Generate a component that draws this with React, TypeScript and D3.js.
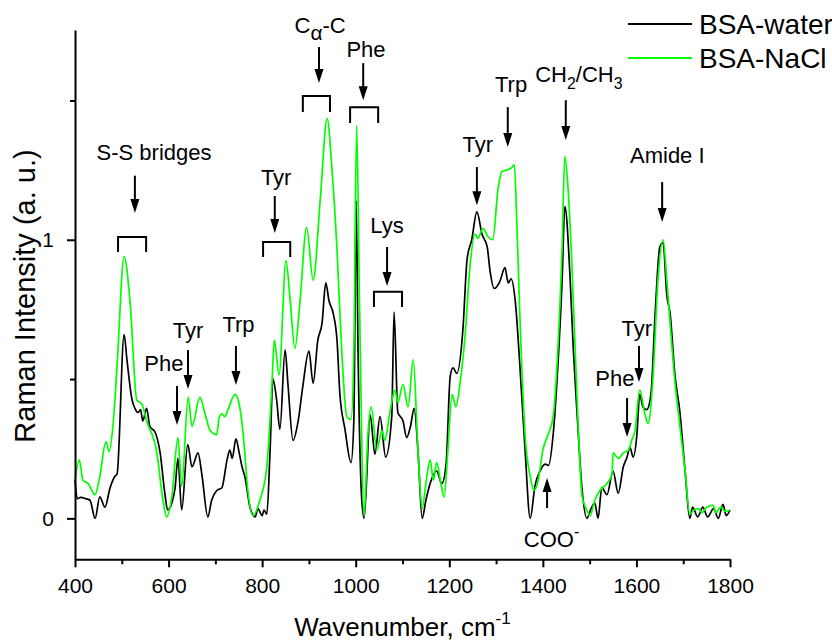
import React, { useRef, useEffect } from 'react';
import * as d3 from 'd3';

type Pt = [number, number];
type Part = { s: string; shift?: 'sub' | 'sup'; scale?: number };

// Raman spectra, [wavenumber cm-1, intensity a.u.]
const waterSpectrum: Pt[] = [
  [400, 0.137], [405, 0.07], [412, 0.075], [424, 0.07], [432, 0.065], [443, 0.0], [453, 0.077],
  [464, 0.04], [475, 0.11], [485, 0.15], [490, 0.16], [505, 0.66], [511, 0.57], [522, 0.425],
  [528, 0.395], [535, 0.38], [540, 0.39], [545, 0.35], [553, 0.395], [560, 0.33], [571, 0.31],
  [582, 0.235], [592, 0.09], [598, 0.03], [607, 0.055], [614, 0.11], [620, 0.215], [628, 0.03],
  [641, 0.265], [650, 0.185], [663, 0.235], [671, 0.16], [684, 0.005], [692, 0.065], [703, 0.1],
  [714, 0.11], [725, 0.21], [731, 0.245], [736, 0.215], [744, 0.285], [751, 0.235], [757, 0.185],
  [763, 0.15], [774, 0.04], [785, 0.005], [791, 0.035], [800, 0.01], [804, 0.03], [810, 0.015],
  [817, 0.245], [823, 0.5], [831, 0.425], [838, 0.32], [849, 0.605], [855, 0.485], [866, 0.28],
  [877, 0.35], [887, 0.475], [900, 0.6], [909, 0.485], [919, 0.64], [928, 0.7], [936, 0.845],
  [943, 0.78], [952, 0.735], [960, 0.64], [966, 0.45], [977, 0.32], [990, 0.2], [996, 0.35],
  [1001, 1.14], [1005, 0.6], [1013, 0.065], [1018, 0.0], [1031, 0.37], [1041, 0.23], [1052, 0.365],
  [1064, 0.22], [1077, 0.365], [1082, 0.74], [1090, 0.38], [1101, 0.35], [1109, 0.29], [1117, 0.33],
  [1125, 0.395], [1133, 0.245], [1142, 0.0], [1150, 0.065], [1159, 0.125], [1173, 0.17], [1184, 0.125],
  [1193, 0.19], [1202, 0.51], [1208, 0.54], [1216, 0.52], [1229, 0.675], [1238, 0.93], [1248, 1.0],
  [1259, 1.1], [1270, 1.02], [1281, 0.975], [1287, 0.89], [1296, 0.825], [1308, 0.85], [1319, 0.9],
  [1326, 0.845], [1332, 0.86], [1341, 0.78], [1351, 0.545], [1362, 0.245], [1373, 0.0], [1383, 0.115],
  [1394, 0.17], [1405, 0.195], [1412, 0.19], [1422, 0.3], [1432, 0.545], [1441, 0.845], [1447, 1.12],
  [1458, 0.87], [1465, 0.61], [1473, 0.38], [1484, 0.1], [1494, 0.0], [1503, 0.035], [1511, 0.055],
  [1518, 0.0], [1526, 0.11], [1537, 0.085], [1550, 0.17], [1561, 0.09], [1572, 0.185], [1580, 0.22],
  [1586, 0.255], [1593, 0.22], [1601, 0.3], [1607, 0.445], [1614, 0.4], [1622, 0.39], [1631, 0.445],
  [1640, 0.735], [1650, 0.975], [1657, 0.99], [1665, 0.8], [1672, 0.735], [1682, 0.52], [1693, 0.38],
  [1704, 0.17], [1714, 0.0], [1720, 0.04], [1731, 0.005], [1742, 0.04], [1752, 0.005], [1765, 0.035],
  [1775, 0.0], [1785, 0.05], [1792, 0.01], [1800, 0.03],
];

const naclSpectrum: Pt[] = [
  [400, 0.137], [409, 0.21], [417, 0.137], [428, 0.125], [443, 0.085], [453, 0.15], [466, 0.275],
  [473, 0.24], [481, 0.33], [490, 0.55], [505, 0.94], [518, 0.77], [532, 0.425], [543, 0.41],
  [553, 0.35], [575, 0.235], [588, 0.065], [596, 0.005], [607, 0.077], [620, 0.29], [628, 0.115],
  [642, 0.435], [650, 0.33], [667, 0.435], [678, 0.375], [689, 0.315], [703, 0.3], [708, 0.36],
  [714, 0.375], [720, 0.365], [727, 0.39], [742, 0.445], [753, 0.39], [763, 0.235], [768, 0.125],
  [781, 0.01], [795, 0.065], [810, 0.185], [821, 0.485], [826, 0.64], [836, 0.515], [851, 0.925],
  [860, 0.78], [870, 0.61], [881, 0.78], [895, 1.045], [909, 0.855], [924, 1.14], [939, 1.435],
  [949, 1.26], [960, 0.965], [970, 0.605], [981, 0.365], [990, 0.355], [996, 0.6], [1002, 1.41],
  [1008, 0.785], [1018, 0.01], [1026, 0.3], [1033, 0.4], [1045, 0.245], [1056, 0.315], [1062, 0.28],
  [1073, 0.38], [1084, 0.46], [1090, 0.415], [1101, 0.48], [1112, 0.4], [1123, 0.57], [1133, 0.245],
  [1142, 0.035], [1150, 0.125], [1159, 0.21], [1166, 0.137], [1173, 0.2], [1182, 0.125], [1189, 0.077],
  [1197, 0.245], [1206, 0.445], [1214, 0.4], [1223, 0.485], [1234, 0.66], [1244, 0.9], [1255, 1.02],
  [1261, 1.005], [1272, 1.04], [1283, 1.01], [1293, 1.0], [1304, 1.18], [1313, 1.245], [1323, 1.25],
  [1334, 1.26], [1339, 1.27], [1344, 1.08], [1351, 0.72], [1362, 0.3], [1373, 0.15], [1381, 0.1],
  [1390, 0.137], [1400, 0.245], [1411, 0.3], [1422, 0.365], [1432, 0.605], [1441, 0.965], [1447, 1.3],
  [1454, 1.18], [1462, 0.915], [1473, 0.435], [1484, 0.077], [1494, 0.03], [1501, 0.01], [1511, 0.065],
  [1522, 0.1], [1537, 0.125], [1548, 0.16], [1550, 0.235], [1561, 0.215], [1572, 0.235], [1583, 0.245],
  [1590, 0.28], [1597, 0.315], [1607, 0.46], [1618, 0.375], [1625, 0.34], [1635, 0.495], [1646, 0.855],
  [1657, 1.0], [1665, 0.855], [1672, 0.7], [1680, 0.53], [1693, 0.33], [1704, 0.17], [1714, 0.015],
  [1723, 0.03], [1733, 0.035], [1740, 0.02], [1750, 0.04], [1764, 0.047], [1770, 0.02], [1780, 0.04],
  [1790, 0.025], [1800, 0.03],
];

const seriesNames = ['BSA-water', 'BSA-NaCl'];
const seriesColors = ['#000000', '#00ff00'];

const xMajorTicks = [400, 600, 800, 1000, 1200, 1400, 1600, 1800];
const xMinorTicks = [500, 700, 900, 1100, 1300, 1500, 1700];
const yMajorTicks = [0, 1];
const yMinorTicks = [0.5, 1.5];

// band assignments: arrow at `at`, from `from` to tip `to` (a.u.), label centred on textAt
const peakLabels: { parts: Part[]; at: number; textAt: number; textY: number; from: number; to: number }[] = [
  { parts: [{ s: 'S-S bridges' }], at: 528, textAt: 569, textY: 1.286, from: 1.23, to: 1.096 },
  { parts: [{ s: 'Phe' }], at: 618, textAt: 590, textY: 0.529, from: 0.475, to: 0.335 },
  { parts: [{ s: 'Tyr' }], at: 641.5, textAt: 641.5, textY: 0.647, from: 0.604, to: 0.464 },
  { parts: [{ s: 'Trp' }], at: 744, textAt: 749.5, textY: 0.669, from: 0.619, to: 0.479 },
  { parts: [{ s: 'Tyr' }], at: 827, textAt: 830, textY: 1.196, from: 1.157, to: 1.024 },
  { parts: [{ s: 'C' }, { s: 'α', shift: 'sub', scale: 0.95 }, { s: '-C' }], at: 921.5, textAt: 924, textY: 1.742, from: 1.692, to: 1.563 },
  { parts: [{ s: 'Phe' }], at: 1016, textAt: 1022, textY: 1.656, from: 1.634, to: 1.501 },
  { parts: [{ s: 'Lys' }], at: 1067, textAt: 1067, textY: 1.024, from: 0.974, to: 0.834 },
  { parts: [{ s: 'Tyr' }], at: 1259, textAt: 1261, textY: 1.315, from: 1.261, to: 1.124 },
  { parts: [{ s: 'Trp' }], at: 1325, textAt: 1332, textY: 1.53, from: 1.476, to: 1.333 },
  { parts: [{ s: 'CH' }, { s: '2', shift: 'sub' }, { s: '/CH' }, { s: '3', shift: 'sub' }], at: 1449, textAt: 1477, textY: 1.566, from: 1.501, to: 1.358 },
  { parts: [{ s: 'COO' }, { s: '-', shift: 'sup' }], at: 1409, textAt: 1418.5, textY: -0.103, from: 0.037, to: 0.145 },
  { parts: [{ s: 'Phe' }], at: 1580, textAt: 1554, textY: 0.475, from: 0.432, to: 0.292 },
  { parts: [{ s: 'Tyr' }], at: 1605.5, textAt: 1601, textY: 0.654, from: 0.619, to: 0.489 },
  { parts: [{ s: 'Amide I' }], at: 1655, textAt: 1666, textY: 1.275, from: 1.207, to: 1.064 },
];

const brackets = [
  { x0: 492, x1: 552, top: 1.01, bottom: 0.956 },
  { x0: 802, x1: 860, top: 0.992, bottom: 0.938 },
  { x0: 887, x1: 945, top: 1.516, bottom: 1.459 },
  { x0: 988, x1: 1048, top: 1.476, bottom: 1.419 },
  { x0: 1039, x1: 1099, top: 0.813, bottom: 0.759 },
];

const FONT = 'Arial, "Liberation Sans", Helvetica, sans-serif';
const W = 832;
const H = 644;
const LABEL_SIZE = 22;

function renderParts(parts: Part[], size: number) {
  let offset = 0;
  return parts.map((p, i) => {
    const target = p.shift === 'sub' ? size * 0.3 : p.shift === 'sup' ? -size * 0.45 : 0;
    const dy = target - offset;
    offset = target;
    const fs = p.shift ? size * (p.scale || 0.72) : size;
    return (
      <tspan key={i} dy={dy} fontSize={fs}>
        {p.s}
      </tspan>
    );
  });
}

function App() {
  const xAxisRef = useRef<SVGGElement>(null);
  const xMinorRef = useRef<SVGGElement>(null);
  const yAxisRef = useRef<SVGGElement>(null);
  const yMinorRef = useRef<SVGGElement>(null);

  const x = d3.scaleLinear().domain([400, 1800]).range([75, 730]);
  const y = d3.scaleLinear().domain([-0.147, 1.753]).range([559.3, 30]);

  const line = d3
    .line<Pt>()
    .x((d) => x(d[0]))
    .y((d) => y(d[1]))
    .curve(d3.curveMonotoneX);

  useEffect(() => {
    const gx = d3.select(xAxisRef.current);
    gx.call(
      d3.axisBottom(x).tickValues(xMajorTicks).tickSize(8).tickSizeOuter(0).tickPadding(11).tickFormat(d3.format('d'))
    );
    gx.attr('font-size', 21).attr('font-family', FONT);

    const gxm = d3.select(xMinorRef.current);
    gxm.call(d3.axisBottom(x).tickValues(xMinorTicks).tickSize(5).tickSizeOuter(0).tickFormat(() => ''));
    gxm.select('.domain').remove();

    const gy = d3.select(yAxisRef.current);
    gy.call(d3.axisLeft(y).tickValues(yMajorTicks).tickSize(8).tickSizeOuter(0).tickPadding(13).tickFormat(d3.format('d')));
    gy.attr('font-size', 21).attr('font-family', FONT);

    const gym = d3.select(yMinorRef.current);
    gym.call(d3.axisLeft(y).tickValues(yMinorTicks).tickSize(5).tickSizeOuter(0).tickFormat(() => ''));
    gym.select('.domain').remove();

    [gx, gxm, gy, gym].forEach((g) => {
      g.selectAll('.domain').attr('stroke-width', 2);
      g.selectAll('.tick line').attr('stroke-width', 2);
      g.selectAll('.tick text').attr('fill', '#000');
    });
  }, []);

  const spectra = [waterSpectrum, naclSpectrum];

  return (
    <svg width={W} height={H} style={{ position: 'absolute', left: 0, top: 0, background: '#fff' }} fontFamily={FONT}>
      {/* spectra */}
      {spectra.map((data, i) => (
        <path key={i} d={line(data) || ''} fill="none" stroke={seriesColors[i]} strokeWidth={1.7} strokeLinejoin="round" />
      ))}

      {/* axes */}
      <g ref={xMinorRef} transform={`translate(0,${y.range()[0]})`} />
      <g ref={xAxisRef} transform={`translate(0,${y.range()[0]})`} />
      <g ref={yMinorRef} transform={`translate(${x.range()[0]},0)`} />
      <g ref={yAxisRef} transform={`translate(${x.range()[0]},0)`} />

      {/* brackets */}
      {brackets.map((b, i) => (
        <path
          key={i}
          d={`M${x(b.x0)},${y(b.bottom)}V${y(b.top)}H${x(b.x1)}V${y(b.bottom)}`}
          fill="none"
          stroke="#000"
          strokeWidth={2}
        />
      ))}

      {/* arrows and labels */}
      {peakLabels.map((p, i) => {
        const ax = x(p.at);
        const y1 = y(p.from);
        const y2 = y(p.to);
        const dir = y2 > y1 ? 1 : -1;
        return (
          <g key={i}>
            <line x1={ax} x2={ax} y1={y1} y2={y2 - dir * 8} stroke="#000" strokeWidth={2} />
            <path d={`M${ax},${y2}L${ax - 4.5},${y2 - dir * 14}L${ax + 4.5},${y2 - dir * 14}Z`} fill="#000" />
            <text x={x(p.textAt)} y={y(p.textY)} textAnchor="middle" fontSize={LABEL_SIZE} fill="#000">
              {renderParts(p.parts, LABEL_SIZE)}
            </text>
          </g>
        );
      })}

      {/* legend */}
      {seriesNames.map((name, i) => (
        <g key={name} transform={`translate(628,${24 + i * 34})`}>
          <line x1={0} x2={64} y1={0} y2={0} stroke={seriesColors[i]} strokeWidth={2} />
          <text x={71} y={0} dy="0.35em" fontSize={28} fill="#000">
            {name}
          </text>
        </g>
      ))}

      {/* axis titles */}
      <text x={(x.range()[0] + x.range()[1]) / 2} y={636} textAnchor="middle" fontSize={26} fill="#000">
        Wavenumber, cm
        <tspan dy={-12} fontSize={17}>
          -1
        </tspan>
      </text>
      <text transform="translate(35,296) rotate(-90)" textAnchor="middle" fontSize={29} fill="#000">
        Raman Intensity (a. u.)
      </text>
    </svg>
  );
}

export default App;
